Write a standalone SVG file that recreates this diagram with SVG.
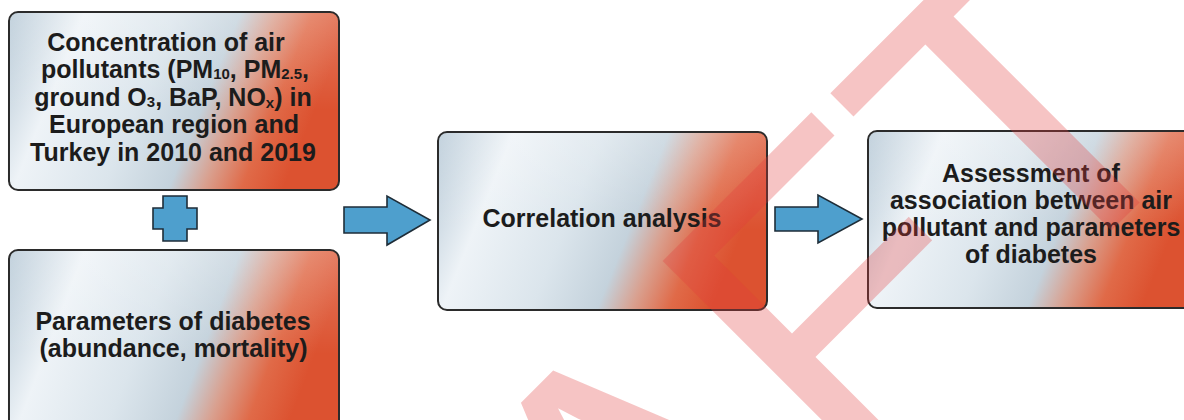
<svg xmlns="http://www.w3.org/2000/svg" width="1184" height="420" viewBox="0 0 1184 420">
  <defs>
    <linearGradient id="boxfill" x1="0" y1="0" x2="1" y2="0.22">
      <stop offset="0" stop-color="#b3c6d4"/>
      <stop offset="0.22" stop-color="#eef3f7"/>
      <stop offset="0.48" stop-color="#dbe5ec"/>
      <stop offset="0.67" stop-color="#c4d2dc"/>
      <stop offset="0.77" stop-color="#d9a08f"/>
      <stop offset="0.88" stop-color="#e06a48"/>
      <stop offset="1" stop-color="#dc5230"/>
    </linearGradient>
    <linearGradient id="boxshine" x1="0" y1="0" x2="0" y2="1">
      <stop offset="0" stop-color="#ffffff" stop-opacity="0.22"/>
      <stop offset="0.55" stop-color="#ffffff" stop-opacity="0"/>
    </linearGradient>
  </defs>
  <style>
    .box { fill: url(#boxfill); stroke: #2b2b2b; stroke-width: 2; }
    .shine { fill: url(#boxshine); stroke: none; }
    .lbl { font-family: "Liberation Sans", Arial, sans-serif; font-weight: bold; font-size: 25px; fill: #1c1c1c; text-anchor: middle; }
    .sub { font-size: 15px; }
    .arrow { fill: #4e9fcd; stroke: #1e2d38; stroke-width: 1.6; stroke-linejoin: miter; }
    .wm { font-family: "Liberation Sans", Arial, sans-serif; font-size: 430px; fill: #e23c3c; fill-opacity: 0.3; }
  </style>
  <rect width="1184" height="420" fill="#ffffff"/>

  <g id="node-pollutants">
    <rect class="box" x="9" y="12" width="330" height="178" rx="9"/>
    <rect class="shine" x="10" y="13" width="328" height="176" rx="8"/>
    <text class="lbl" x="166" y="50.5">Concentration of air</text>
    <text class="lbl" x="175" y="78">pollutants (PM<tspan class="sub" dy="1">10</tspan><tspan dy="-1">, PM</tspan><tspan class="sub" dy="1">2.5</tspan><tspan dy="-1">,</tspan></text>
    <text class="lbl" x="173" y="105.5">ground O<tspan class="sub" dy="1">3</tspan><tspan dy="-1">, BaP, NO</tspan><tspan class="sub" dy="2" font-size="11">x</tspan><tspan dy="-2">) in</tspan></text>
    <text class="lbl" x="174" y="133">European region and</text>
    <text class="lbl" x="173" y="160.5">Turkey in 2010 and 2019</text>
  </g>

  <g id="node-diabetes">
    <rect class="box" x="9" y="250" width="330" height="190" rx="9"/>
    <rect class="shine" x="10" y="251" width="328" height="188" rx="8"/>
    <text class="lbl" x="173" y="330">Parameters of diabetes</text>
    <text class="lbl" x="173.5" y="357">(abundance, mortality)</text>
  </g>

  <g id="node-correlation">
    <rect class="box" x="438" y="132" width="329" height="178" rx="9"/>
    <rect class="shine" x="439" y="133" width="327" height="176" rx="8"/>
    <text class="lbl" x="602" y="227">Correlation analysis</text>
  </g>

  <g id="node-assessment">
    <rect class="box" x="868" y="131" width="330" height="177" rx="9"/>
    <rect class="shine" x="869" y="132" width="328" height="175" rx="8"/>
    <text class="lbl" x="1031" y="181.5">Assessment of</text>
    <text class="lbl" x="1031" y="208.5">association between air</text>
    <text class="lbl" x="1031" y="235.5">pollutant and parameters</text>
    <text class="lbl" x="1031" y="262.5">of diabetes</text>
  </g>

  <g id="connectors">
    <polygon id="plus" class="arrow" points="163,196 187,196 187,208 197,208 197,229 187,229 187,241 163,241 163,229 153,229 153,208 163,208"/>
    <polygon id="arrow-1" class="arrow" points="344,207 387,207 387,196 430,220 387,245 387,233 344,233"/>
    <polygon id="arrow-2" class="arrow" points="775,207 818,207 818,195 862,219 818,243 818,231 775,231"/>
  </g>

  <g id="watermark">
    <text class="wm" transform="translate(205,1137) rotate(-45)" x="0" y="0">DRAFT</text>
  </g>
</svg>
